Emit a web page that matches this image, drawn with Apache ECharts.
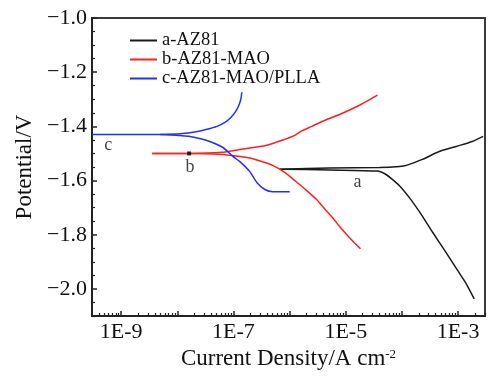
<!DOCTYPE html>
<html>
<head>
<meta charset="utf-8">
<script src="https://cdn.jsdelivr.net/npm/echarts@6/dist/echarts.min.js"></script>
<style>
  html, body { margin: 0; padding: 0; background: #fff; }
  #chart { width: 489px; height: 376px; }
</style>
</head>
<body>
<div id="chart"></div>
<script>
// Tafel curves. x values are log10 of current density (A/cm2), y values potential (V).
const aCathodic = [
  [-6.176, -1.558], [-5.288, -1.561], [-4.435, -1.565], [-4.311, -1.574], [-4.187, -1.593],
  [-4.044, -1.619], [-3.867, -1.663], [-3.689, -1.715], [-3.458, -1.789], [-3.210, -1.867],
  [-3.014, -1.930], [-2.854, -1.981], [-2.712, -2.037]
];
const aAnodic = [
  [-6.176, -1.558], [-5.288, -1.554], [-4.400, -1.552], [-4.044, -1.548], [-3.920, -1.544],
  [-3.636, -1.522], [-3.334, -1.493], [-3.032, -1.474], [-2.748, -1.456], [-2.552, -1.437]
];
const bCathodic = [
  [-8.449, -1.500], [-7.774, -1.500], [-7.206, -1.504], [-6.886, -1.511], [-6.709, -1.517],
  [-6.496, -1.530], [-6.300, -1.544], [-6.087, -1.570], [-5.909, -1.600], [-5.696, -1.637],
  [-5.519, -1.670], [-5.412, -1.696], [-5.234, -1.737], [-5.110, -1.770], [-4.933, -1.811],
  [-4.737, -1.852]
];
const bAnodic = [
  [-8.449, -1.500], [-7.774, -1.500], [-7.206, -1.496], [-6.886, -1.485], [-6.709, -1.480],
  [-6.407, -1.470], [-6.087, -1.448], [-5.909, -1.433], [-5.767, -1.415], [-5.607, -1.400],
  [-5.412, -1.381], [-5.110, -1.356], [-4.755, -1.322], [-4.435, -1.285]
];
const cCathodic = [
  [-9.515, -1.430], [-8.840, -1.430], [-8.307, -1.430], [-7.952, -1.434], [-7.774, -1.437],
  [-7.472, -1.452], [-7.188, -1.478], [-7.011, -1.511], [-6.886, -1.530], [-6.709, -1.567],
  [-6.584, -1.607], [-6.442, -1.633], [-6.300, -1.641], [-5.998, -1.641]
];
const cAnodic = [
  [-8.307, -1.430], [-7.952, -1.427], [-7.686, -1.421], [-7.472, -1.411], [-7.295, -1.400],
  [-7.153, -1.385], [-7.046, -1.367], [-6.957, -1.344], [-6.904, -1.322], [-6.869, -1.300],
  [-6.851, -1.274]
];

const seriesNames = ["a-AZ81", "b-AZ81-MAO", "c-AZ81-MAO/PLLA"];
const seriesColors = ["#1a1a1a", "#ff1f1f", "#2030ff"];
const curveLabels = [
  { name: "a", value: [-4.79, -1.607] },
  { name: "b", value: [-7.774, -1.552] },
  { name: "c", value: [-9.23, -1.470] }
];
const bMarker = [[-7.79, -1.500]];

const xMajorTicks = [-9, -8, -7, -6, -5, -4, -3];
const xLabelTicks = [-9, -7, -5, -3];
const yLabelTicks = [-2.0, -1.8, -1.6, -1.4, -1.2, -1.0];
const X_MIN = -9.52, X_MAX = -2.52, Y_MIN = -2.1, Y_MAX = -1.0;

// log-axis minor ticks (2..9 within each decade)
const xMinorTicks = [];
for (let d = -10; d <= -3; d++) {
  for (let k = 2; k <= 9; k++) {
    const v = d + Math.log10(k);
    if (v > X_MIN && v < X_MAX) xMinorTicks.push(v);
  }
}
const yMinorTicks = [];
for (let i = 0; i <= 22; i++) {
  const v = +(Y_MIN + i * 0.05).toFixed(2);
  if (Math.abs((v * 10) % 2) > 0.01) yMinorTicks.push(v);
}

const FONT = "Liberation Serif";
const INK = "#111";

const chart = echarts.init(document.getElementById("chart"), null, { renderer: "canvas" });

const axisBase = {
  type: "value",
  splitLine: { show: false },
};

// one series per branch; both branches of a sample share its legend name
const branches = [
  [0, aCathodic], [0, aAnodic],
  [1, bCathodic], [1, bAnodic],
  [2, cCathodic], [2, cAnodic]
];

chart.setOption({
  animation: false,
  backgroundColor: "#fff",
  grid: {
    left: 92, right: 4, top: 18, bottom: 60,
    show: true, borderColor: "#3a3a3a", borderWidth: 2
  },
  legend: {
    data: seriesNames,
    orient: "vertical",
    left: 130, top: 31, padding: 0,
    icon: "rect",
    itemWidth: 27, itemHeight: 2, itemGap: 0,
    textStyle: { fontFamily: FONT, fontSize: 18.5, color: INK, lineHeight: 18.5 }
  },
  xAxis: [
    {
      ...axisBase,
      min: X_MIN, max: X_MAX, position: "bottom",
      name: "Current Density/A cm{sup|-2}",
      nameLocation: "middle", nameGap: 27,
      nameTextStyle: {
        fontFamily: FONT, fontSize: 23, color: INK,
        rich: { sup: { fontFamily: FONT, fontSize: 13, color: INK, verticalAlign: "top" } }
      },
      axisLine: { lineStyle: { color: "#222", width: 2 } },
      axisTick: { inside: true, length: 5, customValues: xMajorTicks, lineStyle: { color: "#222", width: 1.5 } },
      axisLabel: {
        customValues: xLabelTicks, margin: 5,
        fontFamily: FONT, fontSize: 22, color: INK,
        formatter: (v) => "1E" + Math.round(v)
      }
    },
    {
      ...axisBase,
      min: X_MIN, max: X_MAX, position: "bottom",
      axisLine: { show: false },
      axisTick: { inside: true, length: 3, customValues: xMinorTicks, lineStyle: { color: "#222", width: 1.2 } },
      axisLabel: { show: false }
    }
  ],
  yAxis: [
    {
      ...axisBase,
      min: Y_MIN, max: Y_MAX, position: "left",
      name: "Potential/V",
      nameLocation: "middle", nameGap: 54,
      nameTextStyle: { fontFamily: FONT, fontSize: 23, color: INK },
      axisLine: { lineStyle: { color: "#222", width: 2 } },
      axisTick: { inside: true, length: 5, customValues: yLabelTicks, lineStyle: { color: "#222", width: 1.5 } },
      axisLabel: {
        customValues: yLabelTicks, margin: 5,
        fontFamily: FONT, fontSize: 22, color: INK,
        formatter: (v) => (v < 0 ? "\u2212" : "") + Math.abs(v).toFixed(1)
      }
    },
    {
      ...axisBase,
      min: Y_MIN, max: Y_MAX, position: "left",
      axisLine: { show: false },
      axisTick: { inside: true, length: 3, customValues: yMinorTicks, lineStyle: { color: "#222", width: 1.2 } },
      axisLabel: { show: false }
    }
  ],
  series: branches.map(([i, data]) => ({
    name: seriesNames[i],
    type: "line",
    data: data,
    symbol: "none",
    smooth: 0.25,
    lineStyle: { color: seriesColors[i], width: 1.5 },
    itemStyle: { color: seriesColors[i] }
  })).concat([
    {
      name: "marker",
      type: "scatter",
      data: bMarker,
      symbol: "rect",
      symbolSize: 4,
      itemStyle: { color: "#000" },
      z: 5
    },
    {
      name: "labels",
      type: "scatter",
      data: curveLabels,
      symbolSize: 1,
      itemStyle: { color: "transparent" },
      label: {
        show: true, position: "inside", formatter: "{b}",
        fontFamily: FONT, fontSize: 18, color: INK
      }
    }
  ])
});
</script>
</body>
</html>
